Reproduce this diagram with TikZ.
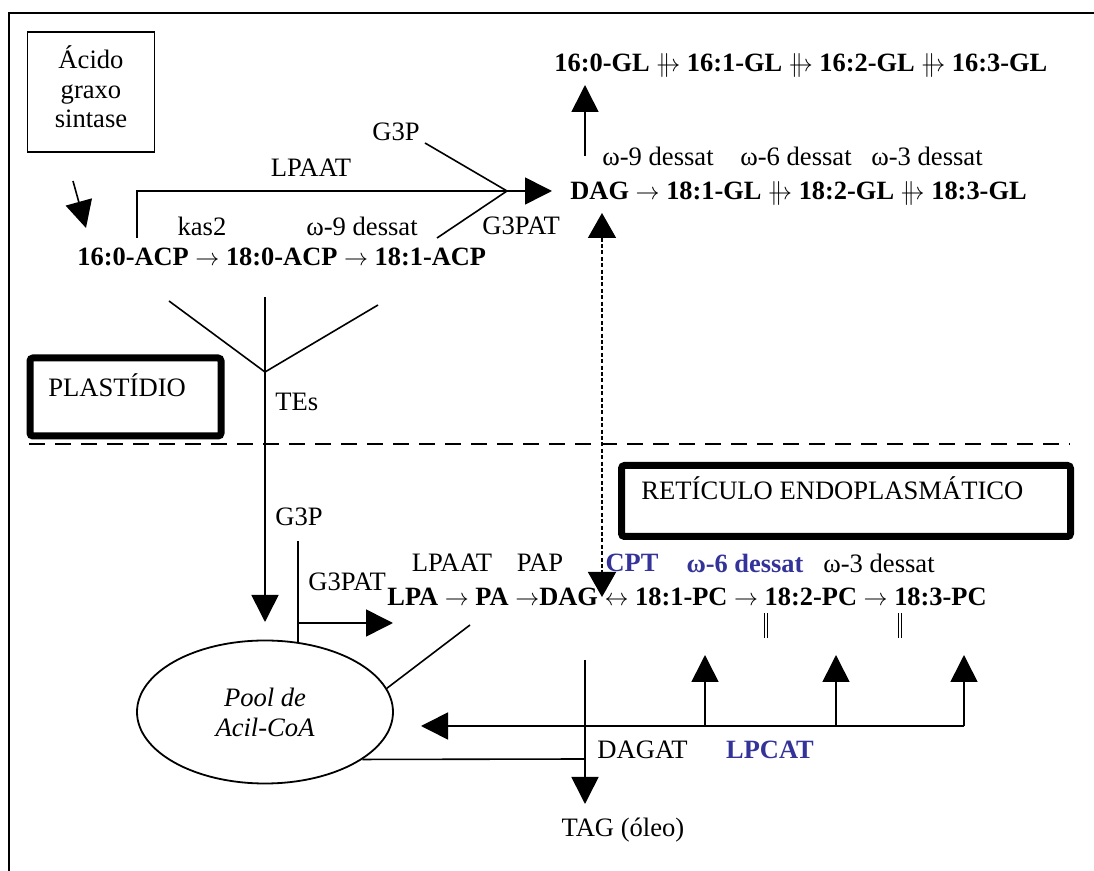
\documentclass[tikz,border=0pt]{standalone}
\usepackage{fontspec}
\setmainfont{Liberation Serif}
\usetikzlibrary{arrows.meta,positioning,shapes.geometric}
\definecolor{enzblue}{HTML}{333399}
\newcommand{\seta}{$\rightarrow$}
\newcommand{\setadb}{\ooalign{$\rightarrow$\cr\kern0.08em\smash{$\|$}\cr}}
\newcommand{\setadupla}{$\leftrightarrow$}
\tikzset{
  fasbox/.style={draw,line width=0.8pt,minimum width=63.5pt,minimum height=60pt,inner sep=0pt},
  orgbox/.style={draw,line width=3.5pt,rounded corners=1.5pt,inner sep=0pt},
  lbl/.style={inner sep=0pt,font=\fontsize{13.3}{14.8}\selectfont},
  lblb/.style={inner sep=0pt,font=\fontsize{13.2}{14.8}\selectfont\bfseries},
  lblblue/.style={lblb,text=enzblue},
  poolnode/.style={ellipse,draw,line width=0.9pt,minimum width=128pt,minimum height=71.5pt,
    inner sep=0pt,align=center,font=\fontsize{13.3}{15}\selectfont\itshape},
  flowline/.style={line width=0.8pt},
  flowarrow/.style={flowline,-{Triangle[length=13.5pt,width=13.5pt]}},
  dotarrow/.style={flowline,dash pattern=on 2pt off 1.2pt,
    {Triangle[length=12.5pt,width=14pt]}-{Triangle[length=12.5pt,width=14pt]}},
  dblbar/.style={line width=0.5pt,double,double distance=1.1pt}
}

\begin{document}
\begin{tikzpicture}[x=0.5pt,y=-0.5pt]
  \useasboundingbox (0,0) rectangle (1094,871);
  % moldura
  \draw[line width=1.2pt] (9,871) -- (9,13) -- (1094,13);
  \draw[flowline,dash pattern=on 8pt off 5pt] (29,444) -- (1070,444);

  % plastidio
  \node[fasbox] (fas) at (91,92) {};
  \node[lbl,align=center] (fastxt) at (91,87) {Ácido\\graxo\\sintase};
  \node[lbl] (lpaat1) at (311,168) {LPAAT};
  \node[lbl] (g3p1) at (396,132) {G3P};
  \node[lbl] (kas) at (202,226) {kas2};
  \node[lbl] (d9acp) at (362,226) {ω-9 dessat};
  \node[lbl,anchor=west] (g3pat1) at (482,226) {G3PAT};
  \node[lblb,anchor=west] (acprow) at (77,257) {16:0-ACP \seta{} 18:0-ACP \seta{} 18:1-ACP};
  \node[lblb,anchor=west] (glrow16) at (554,63) {16:0-GL \setadb{} 16:1-GL \setadb{} 16:2-GL \setadb{} 16:3-GL};
  \node[lbl] (d9gl) at (658,156) {ω-9 dessat};
  \node[lbl] (d6gl) at (796,156) {ω-6 dessat};
  \node[lbl] (d3gl) at (927,156) {ω-3 dessat};
  \node[lblb,anchor=west] (glrow18) at (570,191) {DAG \seta{} 18:1-GL \setadb{} 18:2-GL \setadb{} 18:3-GL};
  \node[orgbox,minimum width=95.5pt,minimum height=39pt] (plastidio) at (125.5,397) {};
  \node[lbl,anchor=west] (plasttxt) at (48,385) {PLASTÍDIO};
  \node[lbl,anchor=west] (tes) at (275,402) {TEs};

  % reticulo
  \node[orgbox,minimum width=224.5pt,minimum height=35.5pt] (reticulo) at (846,501) {};
  \node[lbl,anchor=west] (rettxt) at (641,488) {RETÍCULO ENDOPLASMÁTICO};
  \node[lbl,anchor=west] (g3p2) at (275,517) {G3P};
  \node[lbl,anchor=west] (g3pat2) at (308,582) {G3PAT};
  \node[lbl] (lpaat2) at (452,563) {LPAAT};
  \node[lbl] (pap) at (540,563) {PAP};
  \node[lblblue] (cpt) at (632,563) {CPT};
  \node[lblblue] (d6pc) at (745,563) {ω-6 dessat};
  \node[lbl] (d3pc) at (879,563) {ω-3 dessat};
  \node[lblb,anchor=west] (pcrow) at (387,597) {LPA \seta{} PA \seta DAG \setadupla{} 18:1-PC \seta{} 18:2-PC \seta{} 18:3-PC};
  \node[poolnode] (pool) at (265,712) {Pool de\\Acil-CoA};
  \node[lbl,anchor=west] (dagat) at (597,750) {DAGAT};
  \node[lblblue] (lpcat) at (770,750) {LPCAT};
  \node[lbl] (tag) at (623,830) {TAG (óleo)};

  % pontos livres
  \coordinate (fasout) at (73,181);
  \coordinate (fasin) at (86,228);
  \coordinate (lpaatini) at (137,238);
  \coordinate (junc) at (507,191);
  \coordinate (g3pini) at (425,143);
  \coordinate (g3patini) at (437,238);
  \coordinate (dagtip) at (552,191);
  \coordinate (glini) at (585,156);
  \coordinate (gltip) at (585,85);
  \coordinate (yleft) at (169,301);
  \coordinate (yright) at (378,305);
  \coordinate (ytop) at (265,297);
  \coordinate (yjunc) at (265,372);
  \coordinate (pooltip) at (265,622);
  \coordinate (dagup) at (602,213);
  \coordinate (dagdown) at (602,597);
  \coordinate (g3pline) at (298,541);
  \coordinate (g3ppool) at (298,643);
  \coordinate (g3patjunc) at (298,623);
  \coordinate (lpatip) at (393,623);
  \coordinate (pcline) at (470,625);
  \coordinate (lpcatini) at (964,726);
  \coordinate (lpcattip) at (421,726);
  \coordinate (dagatini) at (585,660);
  \coordinate (dagatjunc) at (585,759);
  \coordinate (tagtip) at (585,804);

  % conectores
  \draw[flowarrow] (fasout) -- (fasin);
  \draw[flowline] (lpaatini) |- (junc);
  \draw[flowline] (g3pini) -- (junc);
  \draw[flowline] (g3patini) -- (junc);
  \draw[flowarrow] (junc) -- (dagtip);
  \draw[flowarrow] (glini) -- (gltip);
  \draw[flowline] (yleft) -- (yjunc) -- (yright);
  \draw[flowarrow] (ytop) -- (pooltip);
  \draw[dotarrow] (dagup) -- (dagdown);
  \draw[flowline] (g3pline) -- (g3ppool);
  \draw[flowarrow] (g3patjunc) -- (lpatip);
  \draw[flowline] (pool.11) -- (pcline);
  \draw[flowarrow] (lpcatini) -- (lpcattip);
  \foreach \x in {705,836,964}
    \draw[flowarrow] (\x,726) -- (\x,655);
  \foreach \x in {766,900}
    \draw[dblbar] (\x,613) -- (\x,638);
  \draw[flowarrow] (dagatini) -- (tagtip);
  \draw[flowline] (pool.-26) -- (dagatjunc);
\end{tikzpicture}
\end{document}
